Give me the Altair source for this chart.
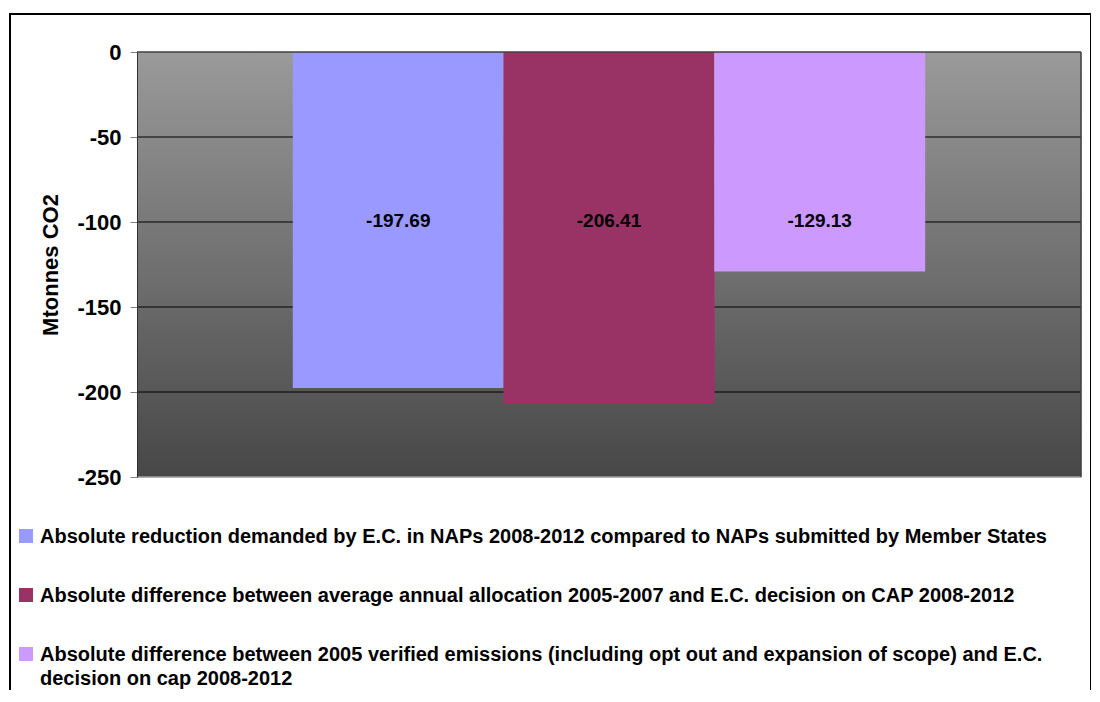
import altair as alt
import pandas as pd

series = [
    "Absolute reduction demanded by E.C. in NAPs 2008-2012 compared to NAPs submitted by Member States",
    "Absolute difference between average annual allocation 2005-2007 and E.C. decision on CAP 2008-2012",
    "Absolute difference between 2005 verified emissions (including opt out and expansion of scope) and E.C. decision on cap 2008-2012",
]
values = [-197.69, -206.41, -129.13]
colors = ["#9999FF", "#993366", "#CC99FF"]
y_ticks = [0, -50, -100, -150, -200, -250]
grid_values = [-50, -100, -150, -200]

df = pd.DataFrame({"series": series, "value": values})
grid_df = pd.DataFrame({"y": grid_values})
one_df = pd.DataFrame({"k": [0]})

FONT = "Liberation Sans"
W, H = 944, 425

yscale = alt.Scale(domain=[-250, 0], nice=False, zero=False)
yaxis = alt.Axis(
    values=y_ticks, title="Mtonnes CO2", grid=False,
    labelExpr="replace(datum.label, '\u2212', '-')",
    labelFont=FONT, labelFontWeight="bold", labelFontSize=22, labelColor="black",
    labelPadding=9, tickSize=7, tickColor="#808080", domainColor="#303030",
    titleFont=FONT, titleFontWeight="bold", titleFontSize=22, titleColor="black",
    titlePadding=14, zindex=1,
)

grad = alt.LinearGradient(
    gradient="linear",
    stops=[alt.GradientStop(offset=0, color="#9a9a9a"),
           alt.GradientStop(offset=1, color="#474747")],
    x1=0, x2=0, y1=0, y2=1,
)

background = alt.Chart(one_df).mark_rect(color=grad).encode(
    x=alt.value(0), x2=alt.value(W),
    y=alt.datum(0, scale=yscale, axis=yaxis), y2=alt.datum(-250),
)

grid = alt.Chart(grid_df).mark_rule(color="black", strokeWidth=1).encode(
    y=alt.Y("y:Q", scale=yscale, axis=yaxis)
)

label_expr = (
    "indexof(datum.label, 'verified') >= 0 ? "
    "['Absolute difference between 2005 verified emissions (including opt out and expansion of scope) and E.C.', "
    "'decision on cap 2008-2012'] : datum.label"
)

bars = alt.Chart(df).mark_bar(size=211).encode(
    x=alt.X("series:N", sort=series, axis=None,
            scale=alt.Scale(paddingInner=0, paddingOuter=0.74)),
    y=alt.Y("value:Q", scale=yscale, axis=yaxis),
    color=alt.Color(
        "series:N",
        scale=alt.Scale(domain=series, range=colors),
        legend=alt.Legend(
            title=None, orient="none", legendX=-121, legendY=481,
            symbolType="M-1,-2.0H1V0H-1Z", symbolSize=196, symbolStrokeWidth=0,
            labelFont=FONT, labelFontWeight="bold", labelFontSize=20,
            labelColor="black", labelLimit=1400, labelBaseline="alphabetic",
            labelExpr=label_expr, rowPadding=39, padding=0, labelOffset=4,
        ),
    ),
)

labels = alt.Chart(df).transform_calculate(
    lbl="replace(format(datum.value, '.2f'), '\u2212', '-')"
).mark_text(
    font=FONT, fontWeight="bold", fontSize=19, color="black",
).encode(
    x=alt.X("series:N", sort=series),
    y=alt.datum(-99.5),
    text="lbl:N",
)

top_edge = alt.Chart(one_df).mark_rule(color="#404040", strokeWidth=1.5).encode(
    y=alt.datum(0)
)
bottom_edge = alt.Chart(one_df).mark_rule(color="#a0a0a0", strokeWidth=1.5).encode(
    y=alt.datum(-250)
)
right_edge = alt.Chart(one_df).mark_rule(color="#404040", strokeWidth=1.5).encode(
    x=alt.value(W), y=alt.value(0), y2=alt.value(H)
)

frame = alt.Chart(one_df).mark_rect(
    fillOpacity=0, stroke="black", strokeWidth=2, clip=False
).encode(
    x=alt.value(-127), x2=alt.value(954), y=alt.value(-38), y2=alt.value(700)
)

chart = alt.layer(
    background, grid, bars, labels, top_edge, bottom_edge, right_edge, frame
).properties(
    width=W, height=H,
    autosize=alt.AutoSizeParams(type="none"),
    padding={"left": 129, "top": 44, "right": 10, "bottom": 213},
).configure_view(stroke=None).configure(
    background="white",
    style={"guide-label": {"lineHeight": 24}},
)

chart.save("out.html", embed_options={"renderer": "svg", "actions": False})
